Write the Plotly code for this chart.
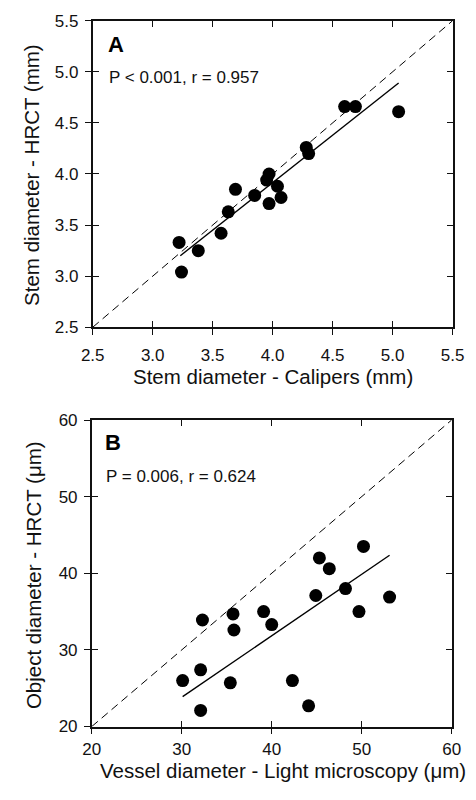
import numpy as np
import plotly.graph_objects as go

# Panel A data: stem diameter (mm)
calipers_mm = [3.22, 3.24, 3.38, 3.57, 3.63, 3.69, 3.85, 3.95, 3.97, 3.97,
               4.04, 4.07, 4.28, 4.30, 4.60, 4.69, 5.05]
hrct_mm = [3.33, 3.04, 3.25, 3.42, 3.63, 3.85, 3.79, 3.94, 4.00, 3.71,
           3.88, 3.77, 4.26, 4.20, 4.66, 4.66, 4.61]
# Panel A fitted line (as drawn in the figure)
fit_a_x = [3.23, 5.05]
fit_a_y = [3.20, 4.89]

# Panel B data: vessel / object diameter (um)
microscopy_um = [30.1, 32.1, 32.1, 32.3, 35.4, 35.7, 35.8, 39.1, 40.0, 42.3,
                 44.1, 44.9, 45.3, 46.4, 48.2, 49.7, 50.2, 53.1]
hrct_um = [26.0, 27.4, 22.1, 33.9, 25.7, 34.7, 32.6, 35.0, 33.3, 26.0,
           22.7, 37.1, 42.0, 40.6, 38.0, 35.0, 43.5, 36.9]
# Panel B fitted line (as drawn in the figure)
fit_b_x = [30.1, 53.1]
fit_b_y = [23.9, 42.35]

range_a = [2.5, 5.5]
ticks_a = [2.5, 3.0, 3.5, 4.0, 4.5, 5.0, 5.5]
range_b = [20, 60]
ticks_b = [20, 30, 40, 50, 60]

label_a = "A"
stats_a = "P < 0.001, r = 0.957"
label_b = "B"
stats_b = "P = 0.006, r = 0.624"

FONT = "Arial, Liberation Sans, sans-serif"
W, H = 476, 800


def px_x(p):
    return p / W


def px_y(p):
    return 1 - p / H


dom_a_x = [px_x(85), px_x(464)]
dom_a_y = [px_y(326), px_y(12)]
dom_b_x = [px_x(84), px_x(463)]
dom_b_y = [px_y(735), px_y(421)]

fig = go.Figure()


def add_panel(xs, ys, fx, fy, rng, xa, ya):
    # identity line
    fig.add_trace(go.Scatter(x=rng, y=rng, mode="lines", xaxis=xa, yaxis=ya,
                             line=dict(color="black", width=1, dash="8px,5px"),
                             hoverinfo="skip", showlegend=False))
    # regression line
    fig.add_trace(go.Scatter(x=fx, y=fy, mode="lines", xaxis=xa, yaxis=ya,
                             line=dict(color="black", width=1.4),
                             hoverinfo="skip", showlegend=False))
    fig.add_trace(go.Scatter(x=xs, y=ys, mode="markers", xaxis=xa, yaxis=ya,
                             marker=dict(color="black", size=13, line=dict(width=0)),
                             showlegend=False, cliponaxis=False))


add_panel(calipers_mm, hrct_mm, fit_a_x, fit_a_y, range_a, "x", "y")
add_panel(microscopy_um, hrct_um, fit_b_x, fit_b_y, range_b, "x2", "y2")

# invisible traces for overlay axes (inside ticks)
fig.add_trace(go.Scatter(x=[range_a[0]], y=[range_a[0]], mode="markers", xaxis="x3", yaxis="y3",
                         marker=dict(opacity=0), hoverinfo="skip", showlegend=False))
fig.add_trace(go.Scatter(x=[range_b[0]], y=[range_b[0]], mode="markers", xaxis="x4", yaxis="y4",
                         marker=dict(opacity=0), hoverinfo="skip", showlegend=False))

common = dict(showgrid=False, zeroline=False, showline=True, linecolor="#111",
              linewidth=1.6, ticks="outside", ticklen=6, tickwidth=1.3, tickcolor="#111",
              mirror=True, tickfont=dict(family=FONT, size=17, color="#111"))
inner = dict(showgrid=False, zeroline=False, showline=False, ticks="inside", ticklen=6,
             tickwidth=1.3, tickcolor="#111", mirror="ticks", showticklabels=False)

title_font = dict(family=FONT, size=20.5, color="#111")

fig.update_layout(
    width=W, height=H,
    margin=dict(l=0, r=0, t=0, b=0),
    paper_bgcolor="white", plot_bgcolor="white",
    xaxis=dict(domain=dom_a_x, anchor="y", range=range_a, tickvals=ticks_a,
               ticktext=[f"{t:.1f}" for t in ticks_a], ticklabelstandoff=6, **common),
    yaxis=dict(domain=dom_a_y, anchor="x", range=range_a, tickvals=ticks_a,
               ticktext=[f"{t:.1f}" for t in ticks_a], ticklabelstandoff=3, **common),
    xaxis2=dict(domain=dom_b_x, anchor="y2", range=range_b, tickvals=ticks_b,
                ticklabelstandoff=0, **common),
    yaxis2=dict(domain=dom_b_y, anchor="x2", range=range_b, tickvals=ticks_b,
                ticklabelstandoff=3, **common),
    xaxis3=dict(overlaying="x", anchor="y3", range=range_a, tickvals=ticks_a, **inner),
    yaxis3=dict(overlaying="y", anchor="x3", range=range_a, tickvals=ticks_a, **inner),
    xaxis4=dict(overlaying="x2", anchor="y4", range=range_b, tickvals=ticks_b, **inner),
    yaxis4=dict(overlaying="y2", anchor="x4", range=range_b, tickvals=ticks_b, **inner),
)

ann = [
    dict(text=label_a, x=px_x(99), y=px_y(36), font=dict(family=FONT, size=22, color="black"),
         xanchor="left", yanchor="middle", bold=True),
    dict(text=stats_a, x=px_x(100), y=px_y(70), font=dict(family=FONT, size=17, color="#111"),
         xanchor="left", yanchor="middle"),
    dict(text=label_b, x=px_x(96), y=px_y(444), font=dict(family=FONT, size=22, color="black"),
         xanchor="left", yanchor="middle", bold=True),
    dict(text=stats_b, x=px_x(97), y=px_y(479), font=dict(family=FONT, size=17, color="#111"),
         xanchor="left", yanchor="middle"),
    dict(text="Stem diameter - Calipers (mm)", x=px_x(274.5), y=px_y(376), font=title_font,
         xanchor="center", yanchor="middle"),
    dict(text="Stem diameter - HRCT (mm)", x=px_x(21), y=px_y(170), font=title_font,
         xanchor="center", yanchor="middle", textangle=-90),
    dict(text="Vessel diameter - Light microscopy (μm)", x=px_x(285), y=px_y(780), font=title_font,
         xanchor="center", yanchor="middle"),
    dict(text="Object diameter - HRCT (μm)", x=px_x(22), y=px_y(580), font=title_font,
         xanchor="center", yanchor="middle", textangle=-90),
]
for a in ann:
    bold = a.pop("bold", False)
    if bold:
        a["text"] = f"<b>{a['text']}</b>"
    fig.add_annotation(xref="paper", yref="paper", showarrow=False, **a)

fig.write_html("out.html",
               config={"displayModeBar": False},
               post_script="document.body.style.margin='0';document.body.style.overflow='hidden';")
